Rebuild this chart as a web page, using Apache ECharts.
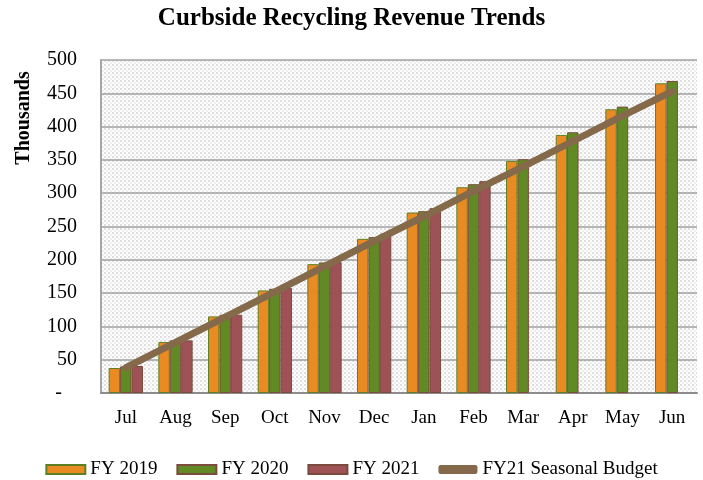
<!DOCTYPE html>
<html>
<head>
<meta charset="utf-8">
<script src="https://cdn.jsdelivr.net/npm/echarts@6/dist/echarts.min.js"></script>
<style>
html,body{margin:0;padding:0;background:#fff;}
#chart{width:703px;height:480px;}
</style>
</head>
<body>
<div id="chart"></div>
<script>
var categories = ['Jul','Aug','Sep','Oct','Nov','Dec','Jan','Feb','Mar','Apr','May','Jun'];
var fy2019 = [37.5, 76.5, 115, 154, 193.5, 231.5, 271, 309, 348.5, 387.5, 426, 465];
var fy2020 = [40, 79, 117.5, 156.5, 196, 234, 273, 313.5, 351, 391.5, 430, 468.5];
var fy2021 = [40.5, 79, 117.5, 157.5, 196.5, 239, 277.5, 318, null, null, null, null];
var budget = [38, 76, 114, 152, 190, 228, 265, 303, 340, 378, 416, 453];
var seriesNames = ['FY 2019', 'FY 2020', 'FY 2021', 'FY21 Seasonal Budget'];

var SERIF = '"Liberation Serif", "DejaVu Serif", serif';

// dotted plot-area pattern
var pc = document.createElement('canvas');
pc.width = 4; pc.height = 4;
var pctx = pc.getContext('2d');
pctx.fillStyle = '#ffffff'; pctx.fillRect(0,0,4,4);
pctx.fillStyle = '#dedede'; pctx.fillRect(0,0,2,2);
pctx.fillStyle = '#eeeeee'; pctx.fillRect(2,2,2,2);

var chart = echarts.init(document.getElementById('chart'), null, {renderer:'canvas'});
var option = {
  animation: false,
  backgroundColor: '#ffffff',
  title: {
    text: 'Curbside Recycling Revenue Trends',
    left: 'center',
    top: 1,
    textStyle: {fontFamily: SERIF, fontWeight: 'bold', fontSize: 25, color: '#000'}
  },
  graphic: [{
    type: 'text',
    x: 24, y: 118,
    rotation: Math.PI/2,
    style: {text: 'Thousands', font: 'bold 20px ' + SERIF, fill: '#000', align: 'center', verticalAlign: 'middle'}
  }],
  legend: {
    top: 455,
    left: 'center',
    itemWidth: 39,
    itemHeight: 9,
    itemGap: 19,
    textStyle: {fontFamily: SERIF, fontSize: 19, color: '#000'},
    data: [
      {name: seriesNames[0], icon: 'rect'},
      {name: seriesNames[1], icon: 'rect'},
      {name: seriesNames[2], icon: 'rect'},
      {name: seriesNames[3], icon: 'roundRect', itemStyle: {color: '#84694a', borderWidth: 0}}
    ]
  },
  grid: {
    left: 101, right: 6, top: 60, bottom: 87,
    show: true,
    borderWidth: 0,
    backgroundColor: {image: pc, repeat: 'repeat'}
  },
  xAxis: {
    type: 'category',
    data: categories,
    axisLine: {show: true, lineStyle: {color: '#8c8c8c', width: 2}},
    axisTick: {show: false},
    axisLabel: {fontFamily: SERIF, fontSize: 19, color: '#000', margin: 16}
  },
  yAxis: {
    type: 'value',
    min: 0, max: 500, interval: 50,
    axisLine: {show: true, lineStyle: {color: '#a6a6a6', width: 2}},
    axisTick: {show: false},
    splitLine: {show: true, lineStyle: {color: '#a0a0a0', width: 1.5}},
    axisLabel: {
      fontFamily: SERIF, fontSize: 20, color: '#000', margin: 24,
      formatter: function(v){ return v === 0 ? '-   ' : String(v); }
    }
  },
  series: [
    {name: seriesNames[0], type: 'bar', data: fy2019, barGap: '0%', barCategoryGap: '31%',
     itemStyle: {color: '#e98a22', borderColor: '#5c8124', borderWidth: 1}},
    {name: seriesNames[1], type: 'bar', data: fy2020,
     itemStyle: {color: '#628a24', borderColor: '#7b4b3e', borderWidth: 1}},
    {name: seriesNames[2], type: 'bar', data: fy2021,
     itemStyle: {color: '#9e5256', borderColor: '#7a4a3c', borderWidth: 1}},
    {name: seriesNames[3], type: 'line', data: budget, symbol: 'none', z: 5,
     lineStyle: {color: '#84694a', width: 7, cap: 'round'}, itemStyle: {color: '#84694a'}}
  ]
};
chart.setOption(option);
</script>
</body>
</html>
